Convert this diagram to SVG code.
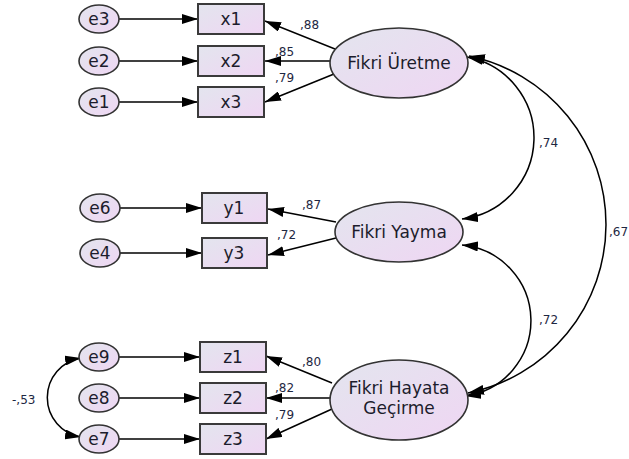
<svg xmlns="http://www.w3.org/2000/svg" width="629" height="459" viewBox="0 0 629 459">
<defs>
<linearGradient id="g" x1="0" y1="0" x2="1" y2="1">
<stop offset="0" stop-color="#e3e5ee"/>
<stop offset="1" stop-color="#efd6f3"/>
</linearGradient>
<marker id="ah" markerUnits="userSpaceOnUse" markerWidth="16" markerHeight="10" refX="16" refY="5" orient="auto-start-reverse">
<path d="M0,0 L16,5 L0,10 Z" fill="#000"/>
</marker>
</defs>
<style>
.obs{fill:url(#g);stroke:#3a3a3a;stroke-width:2}
.err{fill:url(#g);stroke:#333;stroke-width:1.6}
.lat{fill:url(#g);stroke:#333;stroke-width:1.6}
.t{font-family:"DejaVu Sans","Liberation Sans",sans-serif;font-size:17px;fill:#1c1c2c;text-anchor:middle}
.n{font-family:"DejaVu Sans","Liberation Sans",sans-serif;font-size:12px;fill:#1e2742}
.c line,.c path{stroke:#000;stroke-width:1.5;fill:none}
.c .a{marker-end:url(#ah)}
.c .b{marker-start:url(#ah);marker-end:url(#ah)}
</style>
<rect width="629" height="459" fill="#fff"/>
<g class="c" id="connectors">
<line class="a" x1="119" y1="19" x2="198" y2="19"/>
<line class="a" x1="119" y1="61" x2="198" y2="61"/>
<line class="a" x1="119" y1="102" x2="198" y2="102"/>
<line class="a" x1="120" y1="208" x2="202" y2="208"/>
<line class="a" x1="120" y1="253" x2="202" y2="253"/>
<line class="a" x1="119" y1="357" x2="200" y2="357"/>
<line class="a" x1="119" y1="398" x2="200" y2="398"/>
<line class="a" x1="119" y1="439" x2="200" y2="439"/>
<line class="a" x1="335" y1="49" x2="265" y2="21"/>
<line class="a" x1="330" y1="61" x2="265" y2="61"/>
<line class="a" x1="334" y1="74" x2="265" y2="102"/>
<line class="a" x1="336" y1="222" x2="268" y2="209"/>
<line class="a" x1="336" y1="238" x2="268" y2="255"/>
<line class="a" x1="332" y1="383" x2="266" y2="356"/>
<line class="a" x1="330" y1="398" x2="266" y2="398"/>
<line class="a" x1="332" y1="409" x2="266" y2="439"/>
<path class="b" d="M467,57 A82,82 0 0 1 462,219"/>
<path class="b" d="M462,245 A76,76 0 0 1 465,396"/>
<path class="b" d="M469,56 A172,172 0 0 1 468,393"/>
<path class="b" d="M81,358 A40,40 0 0 0 81,437"/>
</g>
<g id="e3"><ellipse class="err" cx="99" cy="19" rx="20" ry="14"/><text class="t" x="99" y="25">e3</text></g>
<g id="e2"><ellipse class="err" cx="99" cy="61" rx="20" ry="14"/><text class="t" x="99" y="67">e2</text></g>
<g id="e1"><ellipse class="err" cx="99" cy="102" rx="20" ry="14"/><text class="t" x="99" y="108">e1</text></g>
<g id="x1"><rect class="obs" x="198" y="4" width="66" height="30"/><text class="t" x="231" y="25">x1</text></g>
<g id="x2"><rect class="obs" x="198" y="46" width="66" height="30"/><text class="t" x="231" y="67">x2</text></g>
<g id="x3"><rect class="obs" x="198" y="87" width="66" height="30"/><text class="t" x="231" y="108">x3</text></g>
<g id="e6"><ellipse class="err" cx="100" cy="208" rx="20" ry="14"/><text class="t" x="100" y="214">e6</text></g>
<g id="e4"><ellipse class="err" cx="100" cy="253" rx="20" ry="14"/><text class="t" x="100" y="259">e4</text></g>
<g id="y1"><rect class="obs" x="202" y="193" width="65" height="30"/><text class="t" x="234" y="214">y1</text></g>
<g id="y3"><rect class="obs" x="202" y="238" width="65" height="30"/><text class="t" x="234" y="259">y3</text></g>
<g id="e9"><ellipse class="err" cx="99" cy="357" rx="20" ry="14"/><text class="t" x="99" y="363">e9</text></g>
<g id="e8"><ellipse class="err" cx="99" cy="398" rx="20" ry="14"/><text class="t" x="99" y="404">e8</text></g>
<g id="e7"><ellipse class="err" cx="99" cy="439" rx="20" ry="14"/><text class="t" x="99" y="445">e7</text></g>
<g id="z1"><rect class="obs" x="200" y="342" width="66" height="30"/><text class="t" x="233" y="363">z1</text></g>
<g id="z2"><rect class="obs" x="200" y="383" width="66" height="30"/><text class="t" x="233" y="404">z2</text></g>
<g id="z3"><rect class="obs" x="200" y="424" width="66" height="30"/><text class="t" x="233" y="445">z3</text></g>
<g id="fikri-uretme"><ellipse class="lat" cx="399" cy="63" rx="69" ry="35"/><text class="t" x="399" y="69">Fikri Üretme</text></g>
<g id="fikri-yayma"><ellipse class="lat" cx="399" cy="232" rx="64" ry="30"/><text class="t" x="399" y="238">Fikri Yayma</text></g>
<g id="fikri-hayata-gecirme"><ellipse class="lat" cx="399" cy="400" rx="69" ry="40"/><text class="t" x="399" y="394">Fikri Hayata</text><text class="t" x="399" y="414">Geçirme</text></g>
<g id="labels">
<text class="n" x="300" y="29">,88</text>
<text class="n" x="275" y="56">,85</text>
<text class="n" x="275" y="82">,79</text>
<text class="n" x="302" y="209">,87</text>
<text class="n" x="277" y="239">,72</text>
<text class="n" x="302" y="366">,80</text>
<text class="n" x="275" y="392">,82</text>
<text class="n" x="275" y="419">,79</text>
<text class="n" x="539" y="147">,74</text>
<text class="n" x="539" y="324">,72</text>
<text class="n" x="609" y="236">,67</text>
<text class="n" x="12" y="404">-,53</text>
</g>
</svg>
